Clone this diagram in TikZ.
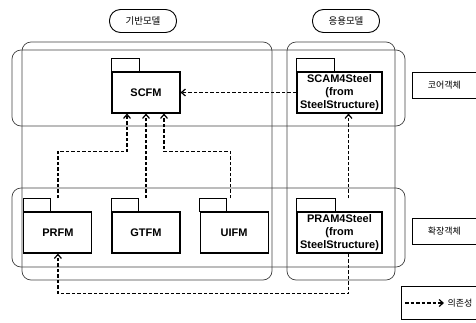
\documentclass[tikz,border=0pt]{standalone}
\usepackage{fontspec}
\setmainfont{Liberation Sans}
\newfontfamily\krfont{Noto Sans CJK KR}
\usetikzlibrary{arrows.meta,positioning,fit}
\tikzset{
  grp/.style={draw=black!75,line width=0.7pt,rounded corners=9pt},
  pkg/.style={rectangle,draw,line width=1.1pt,fill=white,minimum width=#1,
    minimum height=41pt,inner sep=0.5pt,align=center,
    font=\bfseries\fontsize{11}{13}\selectfont},
  pkg/.default=68pt,
  pkgtab/.style={draw,line width=1.1pt,fill=white},
  hdr/.style={draw,line width=0.9pt,rounded corners=11pt,minimum width=67pt,
    minimum height=23pt,font=\krfont\fontsize{9.5}{9.5}\selectfont},
  side/.style={draw,line width=0.9pt,minimum width=64pt,minimum height=26pt,
    font=\krfont\fontsize{9}{9}\selectfont},
  dep/.style={-{Straight Barb[length=4pt,width=7pt]},line width=1.2pt,
    dash pattern=on 3.5pt off 2pt},
}
% folder tab on top of a package body
\newcommand\pkgtab[2]{\draw[pkgtab] (#1.north west) rectangle ++(#2,-13);}

\begin{document}
\begin{tikzpicture}[x=1pt,y=-1pt,node distance=19pt]
  \useasboundingbox (0,0) rectangle (476,322);

  % model columns and object rows
  \draw[grp] (22,42) rectangle (272,280);
  \draw[grp] (287,42) rectangle (395,280);
  \draw[grp] (12,50) rectangle (405,126);
  \draw[grp] (12,188) rectangle (405,267);

  \node[hdr] (base) at (143,21) {기반모델};
  \node[hdr] (app) at (346,21) {응용모델};

  % core packages
  \node[pkg] (scfm) at (146,92.5) {SCFM};
  \node[pkg=85pt] (scam) at (339.5,92.5) {SCAM4Steel\\(from\\SteelStructure)};
  \pkgtab{scfm}{28}
  \pkgtab{scam}{38}

  % extension packages
  \node[pkg] (gtfm) at (146,232.5) {GTFM};
  \node[pkg,left=of gtfm] (prfm) {PRFM};
  \node[pkg,right=of gtfm] (uifm) {UIFM};
  \node[pkg=85pt] (pram) at (339.5,232.5) {PRAM4Steel\\(from\\SteelStructure)};
  \pkgtab{prfm}{27}
  \pkgtab{gtfm}{27}
  \pkgtab{uifm}{27}
  \pkgtab{pram}{39}

  \node[side,anchor=west] (core) at (412,85) {코어객체};
  \node[side,anchor=west] (ext) at (412,231.5) {확장객체};

  % dependencies
  \draw[dep] (scam.west) -- (scam.west -| scfm.east);
  \draw[dep] ([yshift=13pt]prfm.north) -- ++(0,-47) -| ([xshift=-19pt]scfm.south);
  \draw[dep] ([yshift=13pt]gtfm.north) -- (scfm.south);
  \draw[dep] ([xshift=-4pt,yshift=13pt]uifm.north) -- ++(0,-47) -| ([xshift=18pt]scfm.south);
  \draw[dep] ([xshift=9pt,yshift=13pt]pram.north) -- ([xshift=9pt]scam.south);
  \draw[dep] ([xshift=9pt]pram.south) -- ++(0,40) -| (prfm.south);

  % legend
  \coordinate (depstart) at (405,303);
  \node[anchor=west,font=\krfont\fontsize{9}{9}\selectfont] (deptxt) at (444,303) {의존성};
  \draw[dep] (depstart) -- (deptxt.west);
  \node[draw,line width=0.9pt,fit=(depstart)(deptxt),inner xsep=4pt,inner ysep=9pt] (legend) {};
\end{tikzpicture}
\end{document}
